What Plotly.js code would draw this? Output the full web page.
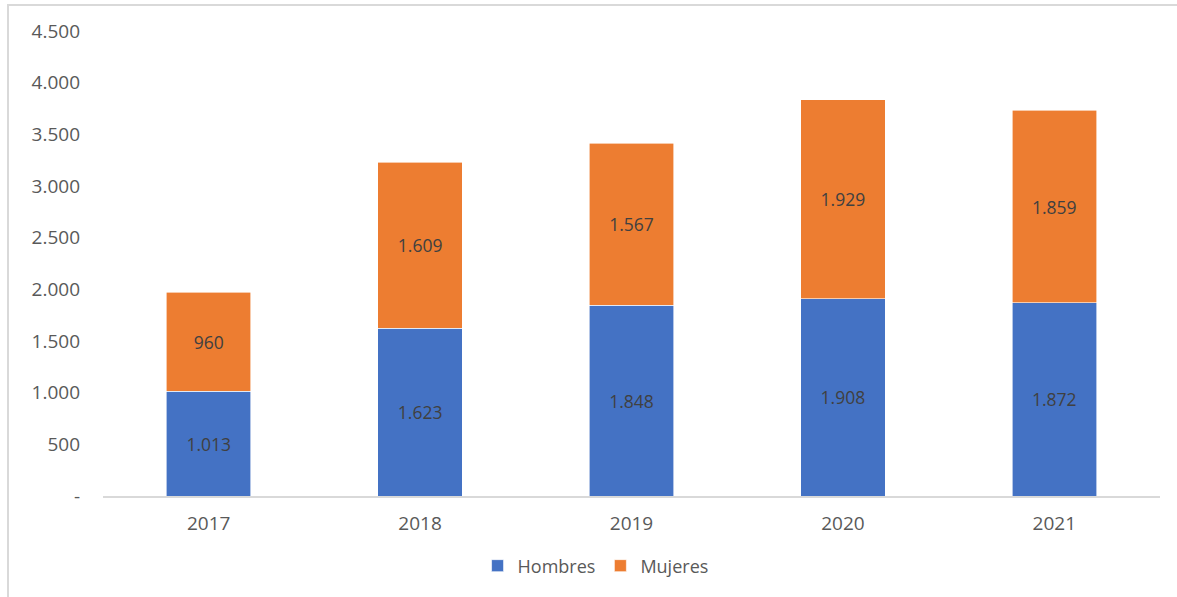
<!DOCTYPE html>
<html><head><meta charset="utf-8">
<script src="https://cdn.plot.ly/plotly-3.0.1.min.js"></script>
<style>
body{margin:0;padding:0;background:#fff;}
#wrap{position:relative;width:1177px;height:597px;overflow:hidden;}
#chart{position:absolute;left:0;top:0;width:1177px;height:597px;}
#frame{position:absolute;left:7px;top:4px;width:1200px;height:620px;border:2px solid #d9d9d9;pointer-events:none;}
</style></head>
<body>
<div id="wrap"><div id="chart"></div><div id="frame"></div></div>
<script>
const years = ['2017','2018','2019','2020','2021'];
const hombres = [1013, 1623, 1848, 1908, 1872];
const mujeres = [960, 1609, 1567, 1929, 1859];
const tickVals = [0,500,1000,1500,2000,2500,3000,3500,4000,4500];
const tickText = ['-','500','1.000','1.500','2.000','2.500','3.000','3.500','4.000','4.500'];

const font = '"Open Sans", Lato, sans-serif';
const traces = [
 {type:'bar', name:'Hombres', x:years, y:hombres, marker:{color:'#4472C4', line:{color:'#ffffff', width:0.6}},
  texttemplate:'%{y:,}', textposition:'inside', insidetextanchor:'middle',
  textfont:{family:font, size:17.5, color:'#404040'}, hoverinfo:'skip'},
 {type:'bar', name:'Mujeres', x:years, y:mujeres, marker:{color:'#ED7D31', line:{color:'#ffffff', width:0.6}},
  texttemplate:'%{y:,}', textposition:'inside', insidetextanchor:'middle',
  textfont:{family:font, size:17.5, color:'#404040'}, hoverinfo:'skip'}
];
const layout = {
 width:1177, height:597, barmode:'stack', bargap:0.6,
 separators:',.',
 margin:{l:103, r:17, t:31, b:101, autoexpand:false},
 paper_bgcolor:'#fff', plot_bgcolor:'#fff',
 font:{family:font, color:'#595959', size:19},
 xaxis:{showgrid:false, showline:true, linecolor:'#d9d9d9', linewidth:1.5, ticks:'', tickfont:{size:19, color:'#595959'}, ticklabelstandoff:10, automargin:false},
 yaxis:{range:[0,4500], tickvals:tickVals, ticktext:tickText, showgrid:false, zeroline:false, showline:false, ticks:'', tickfont:{size:19, color:'#595959'}, ticklabelstandoff:22, automargin:false},
 legend:{orientation:'h', traceorder:'normal', x:0.466, xanchor:'center', yref:'container', y:0.052, yanchor:'middle', font:{size:18, color:'#595959'}, itemwidth:30},
 showlegend:true
};
Plotly.newPlot('chart', traces, layout, {displayModeBar:false, staticPlot:true});
</script>
</body></html>
